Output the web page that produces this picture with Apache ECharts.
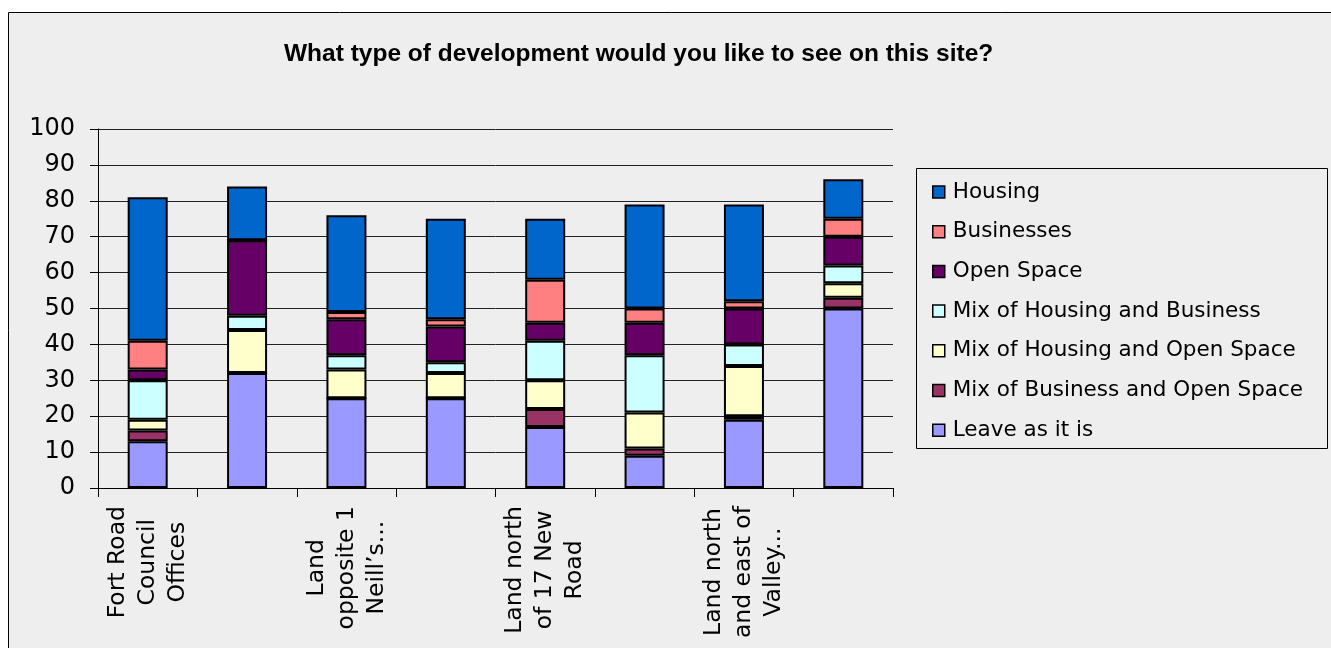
<!DOCTYPE html>
<html>
<head>
<meta charset="utf-8">
<script src="https://cdn.jsdelivr.net/npm/echarts@6/dist/echarts.min.js"></script>
<style>
html,body{margin:0;padding:0;background:#ffffff;}
#chart{width:1331px;height:648px;}
</style>
</head>
<body>
<div id="chart"></div>
<script>
// Categories (wrapped tick labels as shown); unlabeled ones are blank in the picture
const categories = [
  'Fort Road\nCouncil\nOffices',
  ' ',
  'Land\nopposite 1\nNeill\u2019s...',
  '  ',
  'Land north\nof 17 New\nRoad',
  '   ',
  'Land north\nand east of\nValley...',
  '    '
];
const yTicks = [0, 10, 20, 30, 40, 50, 60, 70, 80, 90, 100];

const leaveAsItIs      = [13, 32, 25, 25, 17, 9, 19, 50];
const mixBusinessOpen  = [3, 0, 0, 0, 5, 2, 1, 3];
const mixHousingOpen   = [3, 12, 8, 7, 8, 10, 14, 4];
const mixHousingBus    = [11, 4, 4, 3, 11, 16, 6, 5];
const openSpace        = [3, 21, 10, 10, 5, 9, 10, 8];
const businesses       = [8, 0, 2, 2, 12, 4, 2, 5];
const housing          = [40, 15, 27, 28, 17, 29, 27, 11];

const seriesDefs = [
  { name: 'Leave as it is', data: leaveAsItIs, color: '#9999FF' },
  { name: 'Mix of Business and Open Space', data: mixBusinessOpen, color: '#993366' },
  { name: 'Mix of Housing and Open Space', data: mixHousingOpen, color: '#FFFFCC' },
  { name: 'Mix of Housing and Business', data: mixHousingBus, color: '#CCFFFF' },
  { name: 'Open Space', data: openSpace, color: '#660066' },
  { name: 'Businesses', data: businesses, color: '#FF8080' },
  { name: 'Housing', data: housing, color: '#0066CC' }
];

const FONT = 'DejaVu Sans';
const chart = echarts.init(document.getElementById('chart'), null, { renderer: 'canvas' });

const option = {
  backgroundColor: '#ffffff',
  animation: false,
  title: {
    text: 'What type of development would you like to see on this site?',
    left: 284,
    top: 41,
    padding: 0,
    textStyle: {
      fontFamily: 'Liberation Sans',
      fontWeight: 'bold',
      fontSize: 24.5,
      lineHeight: 26,
      color: '#000000'
    }
  },
  graphic: [
    {
      type: 'rect', z: -10, silent: true,
      shape: { x: 8.5, y: 12.5, width: 1400, height: 700 },
      style: { fill: '#eeeeee', stroke: '#000000', lineWidth: 1 }
    },
    {
      type: 'rect', z: -5, silent: true,
      shape: { x: 916.5, y: 168.5, width: 411, height: 280 },
      style: { fill: 'none', stroke: '#000000', lineWidth: 1 }
    }
  ],
  legend: {
    orient: 'vertical',
    left: 932,
    top: 181,
    padding: 0,
    itemGap: 17.7,
    itemWidth: 12,
    itemHeight: 12,
    icon: 'rect',
    data: seriesDefs.map(s => s.name).reverse(),
    itemStyle: { borderColor: '#000000', borderWidth: 1.5 },
    textStyle: {
      fontFamily: FONT,
      fontSize: 21.5,
      lineHeight: 22,
      color: '#000000',
      padding: [0, 0, 0, 3]
    }
  },
  grid: {
    left: 98,
    right: 1331 - 893,
    top: 129,
    bottom: 648 - 488,
    containLabel: false,
    outerBoundsMode: 'none'
  },
  xAxis: {
    type: 'category',
    data: categories,
    boundaryGap: true,
    axisLine: { show: true, lineStyle: { color: '#000000', width: 1 } },
    axisTick: { show: true, interval: 0, length: 9, lineStyle: { color: '#000000', width: 1 } },
    axisLabel: {
      interval: 1,
      rotate: 90,
      margin: 18,
      color: '#000000',
      fontFamily: FONT,
      fontSize: 23.5,
      formatter: function (v) {
        return v.split('\n').map(l => '{a|' + l + '}').join('\n');
      },
      rich: {
        a: { align: 'center', fontFamily: FONT, fontSize: 23.5, lineHeight: 30, color: '#000000' }
      }
    },
    splitLine: { show: false }
  },
  yAxis: {
    type: 'value',
    min: yTicks[0],
    max: yTicks[yTicks.length - 1],
    interval: 10,
    axisLine: { show: true, lineStyle: { color: '#000000', width: 1 } },
    axisTick: { show: true, length: 8, lineStyle: { color: '#000000', width: 1 } },
    axisLabel: {
      margin: 23,
      color: '#000000',
      fontFamily: FONT,
      fontSize: 24
    },
    splitLine: { show: true, lineStyle: { color: '#222222', width: 1 } }
  },
  series: seriesDefs.map(s => ({
    name: s.name,
    type: 'bar',
    stack: 'total',
    barWidth: 40,
    data: s.data,
    itemStyle: { color: s.color, borderColor: '#000000', borderWidth: 2 },
    emphasis: { disabled: true }
  }))
};

chart.setOption(option);
</script>
</body>
</html>
